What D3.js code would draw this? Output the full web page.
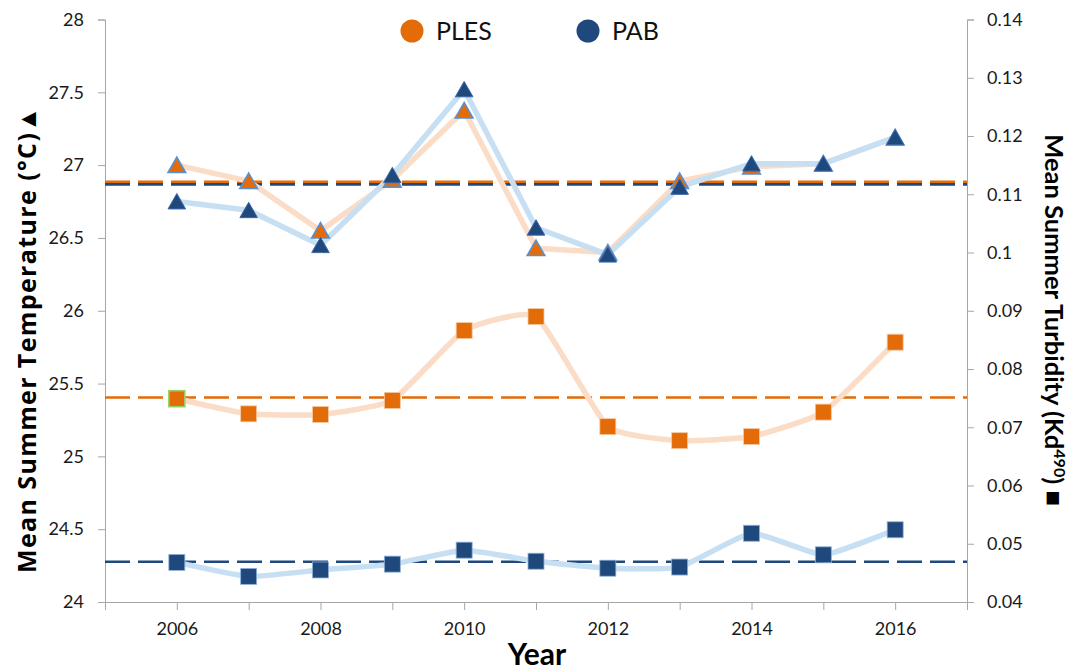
<!DOCTYPE html>
<html>
<head>
<meta charset="utf-8">
<script src="https://cdn.jsdelivr.net/npm/d3@7"></script>
<style>
  html, body { margin: 0; padding: 0; background: #fff; }
  svg { display: block; font-family: Lato, "Open Sans", sans-serif; }
</style>
</head>
<body>
<svg id="chart" width="1078" height="671"></svg>
<script>
// Years on the x axis
const years = [2006, 2007, 2008, 2009, 2010, 2011, 2012, 2013, 2014, 2015, 2016];

// Mean summer temperature (°C), left axis
const plesTemp = [27.00, 26.89, 26.55, 26.90, 27.375, 26.43, 26.40, 26.89, 26.99, 27.01, 27.19];
const pabTemp  = [26.75, 26.69, 26.45, 26.93, 27.52, 26.57, 26.385, 26.85, 27.01, 27.01, 27.19];

// Mean summer turbidity (Kd490), right axis
const plesTurb = [0.0749, 0.0723, 0.0722, 0.0746, 0.0866, 0.0890, 0.0701, 0.0677, 0.0684, 0.0726, 0.0846];
const pabTurb  = [0.0468, 0.0444, 0.0455, 0.0465, 0.0489, 0.0470, 0.0458, 0.0460, 0.0518, 0.0481, 0.0524];

// Long-term means (dashed reference lines)
const plesTempMean = 26.885;
const pabTempMean  = 26.868;
const plesTurbMean = 0.0751;
const pabTurbMean  = 0.0469;

// Axis ticks
const tempTicks = [24, 24.5, 25, 25.5, 26, 26.5, 27, 27.5, 28];
const turbTicks = [0.04, 0.05, 0.06, 0.07, 0.08, 0.09, 0.10, 0.11, 0.12, 0.13, 0.14];
const yearTicks = [2005, 2006, 2007, 2008, 2009, 2010, 2011, 2012, 2013, 2014, 2015, 2016, 2017];
const yearLabels = [2006, 2008, 2010, 2012, 2014, 2016];

const colors = { PLES: "#e36c09", PAB: "#1f497d" };
const lightColors = { PLES: "#fbdcc6", PAB: "#c7dff2" };

const svg = d3.select("#chart");
const plotLeft = 105, plotRight = 967, plotTop = 19.5, plotBottom = 602;

const x = d3.scaleLinear().domain([2005, 2017]).range([plotLeft, plotRight]);
const yT = d3.scaleLinear().domain([24, 28]).range([plotBottom, plotTop]);
const yK = d3.scaleLinear().domain([0.04, 0.14]).range([plotBottom, plotTop]);

const axisColor = "#a6a6a6";
const fmt = d => String(+d.toFixed(2));

// Left axis
const gL = svg.append("g").attr("transform", `translate(${plotLeft},0)`)
  .call(d3.axisLeft(yT).tickValues(tempTicks).tickFormat(fmt).tickSize(7).tickPadding(14));
// Right axis
const gR = svg.append("g").attr("transform", `translate(${plotRight},0)`)
  .call(d3.axisRight(yK).tickValues(turbTicks).tickFormat(fmt).tickSize(7).tickPadding(13));
// Bottom axis
const gB = svg.append("g").attr("transform", `translate(0,${plotBottom})`)
  .call(d3.axisBottom(x).tickValues(yearTicks)
    .tickFormat(d => yearLabels.includes(d) ? String(d) : "").tickSize(8).tickPadding(12));

[gL, gR, gB].forEach(g => {
  g.select(".domain").attr("stroke", axisColor);
  g.selectAll(".tick line").attr("stroke", axisColor);
  g.selectAll(".tick text").attr("fill", "#1a1a1a").style("font-size", "18px")
    .style("font-family", "Lato, 'Open Sans', sans-serif");
});

// Dashed mean lines
const means = [
  { v: plesTurbMean, s: yK, c: colors.PLES },
  { v: pabTurbMean, s: yK, c: colors.PAB },
  { v: plesTempMean, s: yT, c: colors.PLES },
  { v: pabTempMean, s: yT, c: colors.PAB }
];
svg.append("g").selectAll("line").data(means).join("line")
  .attr("x1", plotLeft).attr("x2", plotRight)
  .attr("y1", d => d.s(d.v)).attr("y2", d => d.s(d.v))
  .attr("stroke", d => d.c).attr("stroke-width", 2.6)
  .attr("stroke-dasharray", "25,8");

// Connecting lines (turbidity lightly smoothed, temperature straight)
const smooth = d3.curveCardinal.tension(0.55);
const series = [
  { site: "PLES", vals: plesTurb, s: yK, curve: smooth, shape: "square" },
  { site: "PAB",  vals: pabTurb,  s: yK, curve: smooth, shape: "square" },
  { site: "PLES", vals: plesTemp, s: yT, curve: d3.curveLinear, shape: "triangle" },
  { site: "PAB",  vals: pabTemp,  s: yT, curve: d3.curveLinear, shape: "triangle" }
];
const lineG = svg.append("g");
series.forEach(sr => {
  const line = d3.line().x((d, i) => x(years[i])).y(d => sr.s(d)).curve(sr.curve);
  lineG.append("path").datum(sr.vals)
    .attr("d", line).attr("fill", "none")
    .attr("stroke", lightColors[sr.site]).attr("stroke-width", 5.5)
    .attr("stroke-linejoin", "round").attr("stroke-linecap", "round");
});

// Markers
const tri = "M0,-8L8.8,7.4L-8.8,7.4Z";
const markG = svg.append("g");
series.forEach(sr => {
  const g = markG.append("g");
  if (sr.shape === "square") {
    g.selectAll("rect").data(sr.vals).join("rect")
      .attr("x", (d, i) => x(years[i]) - 8).attr("y", d => sr.s(d) - 8)
      .attr("width", 16).attr("height", 16)
      .attr("fill", colors[sr.site])
      .attr("stroke", (d, i) => sr.site === "PLES" ? (i === 0 ? "#9bcf63" : "#f6c9a4") : "#8fb2dc")
      .attr("stroke-width", (d, i) => sr.site === "PLES" && i === 0 ? 1.6 : 0.8);
  } else {
    g.selectAll("path").data(sr.vals).join("path")
      .attr("transform", (d, i) => `translate(${x(years[i])},${sr.s(d)})`)
      .attr("d", tri)
      .attr("fill", colors[sr.site])
      .attr("stroke", sr.site === "PLES" ? "#5b8fd0" : "#3b68a8")
      .attr("stroke-width", sr.site === "PLES" ? 1.6 : 1);
  }
});

// Legend
const legend = [
  { name: "PLES", cx: 412, tx: 436 },
  { name: "PAB", cx: 588, tx: 612 }
];
const lg = svg.append("g");
lg.selectAll("circle").data(legend).join("circle")
  .attr("cx", d => d.cx).attr("cy", 31).attr("r", 11.5)
  .attr("fill", d => colors[d.name]);
lg.selectAll("text").data(legend).join("text")
  .attr("x", d => d.tx).attr("y", 40)
  .style("font-size", "25px").attr("fill", "#111")
  .text(d => d.name);

// Axis titles
svg.append("text")
  .attr("transform", "translate(36,340) rotate(-90)")
  .attr("text-anchor", "middle")
  .attr("textLength", 466).attr("lengthAdjust", "spacing")
  .style("font-family", "'Open Sans', Lato, sans-serif")
  .style("font-size", "25px").style("font-weight", "bold").attr("fill", "#000")
  .text("Mean Summer Temperature (°C)▲");

const rt = svg.append("text")
  .attr("transform", "translate(1045,320) rotate(90)")
  .attr("text-anchor", "middle")
  .style("font-size", "25.5px").style("font-weight", "bold").attr("fill", "#000");
rt.append("tspan").text("Mean Summer Turbidity (Kd");
rt.append("tspan").attr("dy", -9).style("font-size", "16px").text("490");
rt.append("tspan").attr("dy", 9).text(") ■");

svg.append("text")
  .attr("x", 537).attr("y", 665)
  .attr("text-anchor", "middle")
  .style("font-size", "30px").style("font-weight", "bold").attr("fill", "#000")
  .text("Year");
</script>
</body>
</html>
